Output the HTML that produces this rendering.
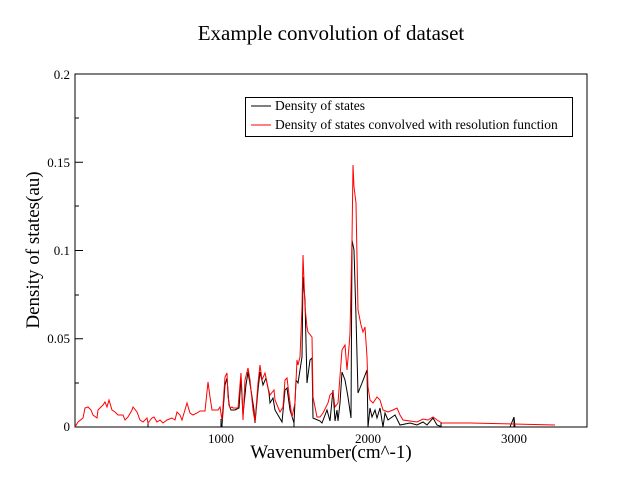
<!DOCTYPE html>
<html><head><style>
body{margin:0;background:#fff;}
svg text{font-family:"Liberation Serif",serif;}
</style></head><body>
<svg width="643" height="497" viewBox="0 0 643 497" xmlns="http://www.w3.org/2000/svg">
<rect width="643" height="497" fill="#fff"/>
<text x="331" y="40" font-size="21" text-anchor="middle">Example convolution of dataset</text>
<rect x="75" y="74" width="512" height="353" fill="none" stroke="#000" stroke-width="1"/>
<g stroke="#000" stroke-width="1">
<line x1="75" y1="74" x2="83" y2="74"/><line x1="75" y1="162.25" x2="83" y2="162.25"/><line x1="75" y1="250.5" x2="83" y2="250.5"/><line x1="75" y1="338.75" x2="83" y2="338.75"/>
<line x1="75" y1="118" x2="79" y2="118"/><line x1="75" y1="206" x2="79" y2="206"/><line x1="75" y1="295" x2="79" y2="295"/><line x1="75" y1="383" x2="79" y2="383"/>
<line x1="221" y1="427" x2="221" y2="419"/><line x1="368" y1="427" x2="368" y2="419"/><line x1="514" y1="427" x2="514" y2="419"/>
<line x1="148" y1="427" x2="148" y2="423"/><line x1="294" y1="427" x2="294" y2="423"/><line x1="441" y1="427" x2="441" y2="423"/>
</g>
<g font-size="13" text-anchor="end">
<text x="70" y="79">0.2</text><text x="70" y="167">0.15</text><text x="70" y="255">0.1</text><text x="70" y="343">0.05</text><text x="70" y="431">0</text>
</g>
<g font-size="13" text-anchor="middle">
<text x="221" y="443">1000</text><text x="368" y="443">2000</text><text x="514" y="443">3000</text>
</g>
<text x="331" y="458" font-size="19" text-anchor="middle">Wavenumber(cm^-1)</text>
<text transform="translate(39,250) rotate(-90)" font-size="19" text-anchor="middle">Density of states(au)</text>
<polyline fill="none" stroke="#000" stroke-width="1" points="75,427 222,427 222,425 225,385 227,378 229,405 231,410 235,410 239,408 241,378 243,415 246,385 248,372 251,390 254,410 255,423 258,390 260,372 263,385 266,378 269,393 270,403 273,398 275,410 282,422 285,390 287,388 290,410 294,423 296,380 298,383 302,357 303,277 305,300 307,383 310,360 312,358 313,418 320,421 322,423 327,410 330,421 333,390 335,421 337,410 338,421 340,403 342,372 345,380 348,397 351,418 352,240 354,250 356,317 358,393 362,383 367,370 368,427 370,408 372,417 375,410 377,418 380,408 383,427 385,413 388,420 395,415 400,425 410,423 417,425 423,422 427,425 433,418 437,425 442,427 510,427 514,417 515,427 562,427"/>
<polyline fill="none" stroke="#f00" stroke-width="1" points="75,427 78,422 83,418 85,408 88,407 91,410 93,415 97,418 98,410 103,405 105,402 107,407 109,400 112,410 115,412 118,415 123,415 125,420 128,417 132,410 133,407 137,412 140,420 143,422 147,418 148,423 152,418 154,417 157,422 160,420 163,423 167,420 172,418 175,420 177,412 180,415 182,420 187,403 190,413 193,415 197,413 200,411 205,411 208,382 210,397 212,410 218,410 220,407 222,420 225,377 227,373 228,397 230,408 232,407 233,408 238,408 241,373 242,393 243,420 245,380 248,368 250,380 253,410 255,422 258,383 260,365 262,380 265,373 268,388 270,395 274,390 275,400 280,412 283,407 285,380 287,378 290,403 292,417 295,403 297,360 298,365 300,357 302,307 303,255 305,307 307,327 308,332 312,337 313,397 317,417 320,417 323,413 328,403 330,395 333,392 335,407 338,403 342,350 345,345 347,370 349,347 350,333 352,240 353,165 354,187 356,203 357,257 358,310 361,325 363,332 365,327 367,357 368,387 370,400 373,403 377,397 380,400 383,410 388,412 393,410 397,408 400,415 403,420 410,421 417,422 423,419 428,420 433,417 437,420 442,423 470,423 555,425"/>
<rect x="245.5" y="97.5" width="327" height="39" fill="#fff" stroke="#000"/>
<line x1="251" y1="106" x2="271" y2="106" stroke="#000"/>
<line x1="251" y1="125" x2="271" y2="125" stroke="#f00"/>
<g font-size="13.5"><text x="275" y="110">Density of states</text><text x="275" y="129">Density of states convolved with resolution function</text></g>
</svg>
</body></html>
